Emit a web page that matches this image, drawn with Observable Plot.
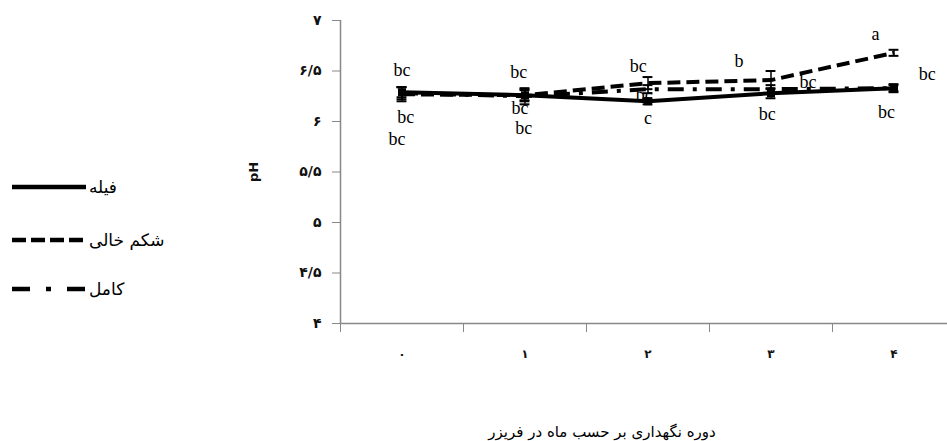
<!DOCTYPE html>
<html>
<head>
<meta charset="utf-8">
<script src="https://cdn.jsdelivr.net/npm/d3@7"></script>
<script src="https://cdn.jsdelivr.net/npm/@observablehq/plot@0.6"></script>
<style>
  html, body { margin: 0; padding: 0; background: #fff; }
  #wrap { position: relative; width: 947px; height: 441px; overflow: hidden; }
  #chart { position: absolute; left: 0; top: 0; }
  #legend { position: absolute; left: 0; top: 0; width: 220px; height: 441px; }
  #chart g[aria-label="y-axis label"] text { font-weight: bold; font-size: 13px; font-family: "DejaVu Sans", sans-serif; }
  #chart g[aria-label="y-axis tick label"] text { font-weight: bold; font-size: 14px; }
  #chart g[aria-label="x-axis tick label"] text { font-weight: bold; font-size: 12px; }
</style>
</head>
<body>
<div id="wrap"><div id="chart"></div><svg id="legend"></svg></div>
<script>
// ---- data ----
const months = [0, 1, 2, 3, 4];
const monthLabels = ["۰", "۱", "۲", "۳", "۴"];
const seriesNames = ["فیله", "شکم خالی", "کامل"];
const filletPH = [6.29, 6.26, 6.20, 6.28, 6.33];
const filletErr = [0.05, 0.06, 0.03, 0.05, 0.04];
const emptyBellyPH = [6.27, 6.26, 6.38, 6.41, 6.68];
const emptyBellyErr = [0.07, 0.05, 0.06, 0.09, 0.03];
const wholePH = [6.28, 6.25, 6.32, 6.32, 6.33];
const wholeErr = [0.06, 0.08, 0.04, 0.04, 0.03];
const yTicks = [4, 4.5, 5, 5.5, 6, 6.5, 7];
const xTitle = "دوره نگهداری بر حسب ماه در فریزر";
const yTitle = "pH";
// significance letters (month position, pH position, letter)
const letterMonth = [0, 0.03, -0.04, 0.95, 0.96, 0.99, 1.92, 1.97, 2.0, 2.74, 3.3, 2.97, 3.85, 4.27, 3.94];
const letterPH    = [6.51, 6.04, 5.82, 6.49, 6.13, 5.93, 6.55, 6.26, 6.03, 6.60, 6.39, 6.07, 6.86, 6.47, 6.09];
const letterText  = ["bc", "bc", "bc", "bc", "bc", "bc", "bc", "bc", "c", "b", "bc", "bc", "a", "bc", "bc"];

const styles = [
  { name: seriesNames[0], vals: filletPH, err: filletErr, dash: null },
  { name: seriesNames[1], vals: emptyBellyPH, err: emptyBellyErr, dash: "13,6" },
  { name: seriesNames[2], vals: wholePH, err: wholeErr, dash: "16,9,4,9" }
];

const persian = s => String(s).replace(/[0-9]/g, d => "۰۱۲۳۴۵۶۷۸۹"[+d]).replace(".", "/");

const rows = styles.flatMap((s, si) => months.map((m, i) => ({ series: si, month: m, ph: s.vals[i], err: s.err[i] })));
const letters = letterText.map((t, i) => ({ month: letterMonth[i], ph: letterPH[i], text: t }));

const gray = "#888";
const order = [1, 2, 0];
const marks = [
  Plot.ruleY([4], { stroke: gray, strokeWidth: 1.5 }),
  Plot.ruleX([-0.5], { stroke: gray, strokeWidth: 1.5 }),
  Plot.axisY({ ticks: yTicks, tickSize: 8, tickPadding: 11, stroke: gray, tickFormat: persian, fill: "#111", label: yTitle, labelAnchor: "center", labelOffset: 92, labelArrow: "none" }),
  Plot.axisX({ ticks: [-0.5, 0.5, 1.5, 2.5, 3.5], tickSize: 9, stroke: gray, tickFormat: () => "", label: null }),
  Plot.axisX({ ticks: months, tickSize: 0, tickPadding: 26, tickFormat: i => monthLabels[i], fill: "#111", label: null }),
  Plot.text([xTitle], { frameAnchor: "bottom", lineAnchor: "middle", dx: -42, dy: 109, fontSize: 15, fontFamily: "DejaVu Sans, sans-serif", fill: "black" })
];
for (const si of order) {
  const d = rows.filter(r => r.series === si);
  marks.push(Plot.line(d, { x: "month", y: "ph", stroke: "black", strokeWidth: 4, strokeDasharray: styles[si].dash, strokeLinecap: "butt" }));
}
for (const si of order) {
  const d = rows.filter(r => r.series === si);
  marks.push(Plot.ruleX(d, { x: "month", y1: r => r.ph - r.err, y2: r => r.ph + r.err, stroke: "black", strokeWidth: 1.5 }));
  marks.push(Plot.ruleY(d, { y: r => r.ph + r.err, x1: r => r.month - 0.04, x2: r => r.month + 0.04, stroke: "black", strokeWidth: 2 }));
  marks.push(Plot.ruleY(d, { y: r => r.ph - r.err, x1: r => r.month - 0.04, x2: r => r.month + 0.04, stroke: "black", strokeWidth: 2 }));
}
marks.push(Plot.dot(rows.filter(r => r.series === 0), { x: "month", y: "ph", symbol: "square", r: 4.5, fill: "black" }));
marks.push(Plot.text(letters, { x: "month", y: "ph", text: "text", fontSize: 18, fontFamily: "Liberation Serif, serif", fill: "black" }));

const chart = Plot.plot({
  width: 947,
  height: 441,
  marginLeft: 340,
  marginRight: 0,
  marginTop: 20,
  marginBottom: 118,
  style: { fontFamily: "DejaVu Sans, sans-serif", fontSize: "12px", background: "white" },
  x: { type: "linear", domain: [-0.5, 4.435] },
  y: { domain: [4, 7] },
  marks
});
document.getElementById("chart").appendChild(chart);

// legend
const leg = d3.select("#legend");
const legY = [187, 240, 289];
styles.forEach((s, i) => {
  leg.append("line").attr("x1", 12).attr("x2", 86).attr("y1", legY[i]).attr("y2", legY[i])
    .attr("stroke", "black").attr("stroke-width", 4.5)
    .attr("stroke-dasharray", i === 1 ? "14,5" : i === 2 ? "18,16,5,16" : null);
  leg.append("text").attr("x", 89).attr("y", legY[i]).attr("dy", "0.35em")
    .attr("text-anchor", "start").attr("direction", "ltr")
    .attr("font-family", "DejaVu Sans, sans-serif").attr("font-size", 17)
    .text(s.name);
});
</script>
</body>
</html>
